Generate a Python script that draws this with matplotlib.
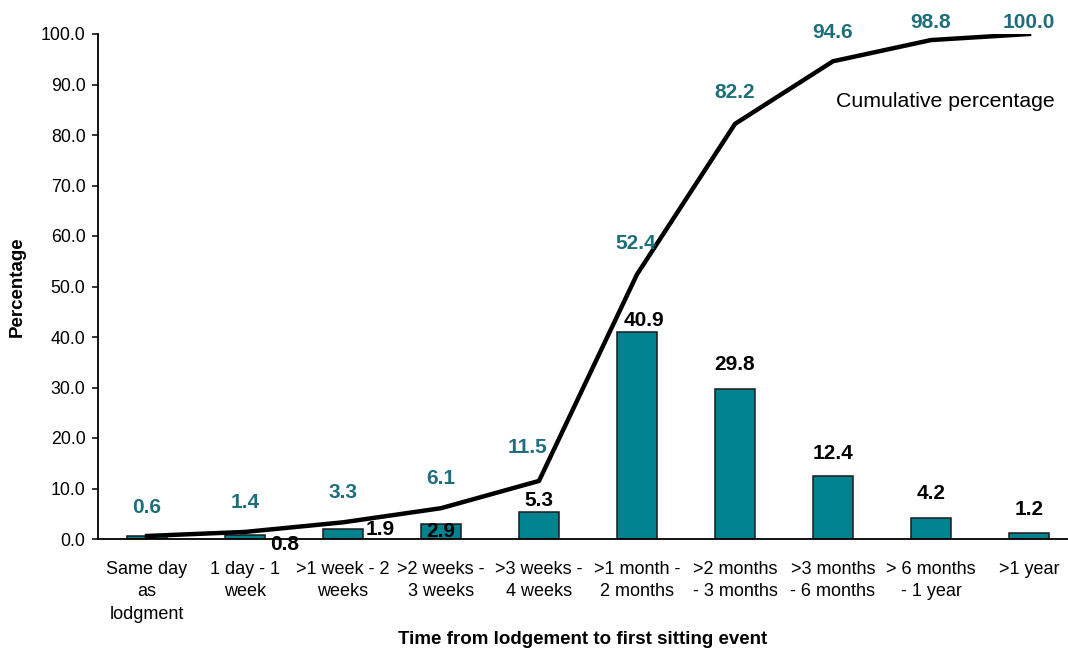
import matplotlib
matplotlib.use("Agg")
import matplotlib.pyplot as plt
import numpy as np

plt.rcParams['font.family'] = ['Liberation Sans', 'DejaVu Sans']

# data
categories = ["Same day\nas\nlodgment", "1 day - 1\nweek", ">1 week - 2\nweeks",
              ">2 weeks -\n3 weeks", ">3 weeks -\n4 weeks", ">1 month -\n2 months",
              ">2 months\n- 3 months", ">3 months\n- 6 months", "> 6 months\n- 1 year",
              ">1 year"]
share = [0.6, 0.8, 1.9, 2.9, 5.3, 40.9, 29.8, 12.4, 4.2, 1.2]
cumulative = [0.6, 1.4, 3.3, 6.1, 11.5, 52.4, 82.2, 94.6, 98.8, 100.0]

# label nudges in pixels (Excel moved a few of them by hand)
bar_dx = [0, 40, 37, 0, 0, 7, 0, 0, 0, 0]
bar_dy = [None, -10, 0, -7, 12, 12, 24, 23, 24, 23]
cum_dx = [0, 0, 0, 0, -11, -1, 0, 0, 0, 0]
cum_dy = [28, 29, 30, 30, 33, 31, 31, 29, 18, 12]

bar_col = '#00828F'
lab_col = '#1E6F7B'

fig = plt.figure(figsize=(10.68, 6.49), dpi=100)
ax = fig.add_axes([98 / 1068, 1 - 539 / 649, 1 - 98 / 1068, (539 - 34) / 649])

x = np.arange(len(categories))
ax.bar(x, share, width=0.41, color=bar_col, edgecolor='#1a1a1a', linewidth=1.1, zorder=2)
ax.plot(x, cumulative, color='black', linewidth=3.2, solid_joinstyle='round', zorder=3)

for i, v in enumerate(share):
    if bar_dy[i] is None:
        continue
    ax.annotate(f"{v:.1f}", (x[i], v), xytext=(bar_dx[i], bar_dy[i]),
                textcoords='offset pixels', ha='center', va='center',
                fontsize=15, fontweight='bold', color='black', zorder=4)

for i, v in enumerate(cumulative):
    ax.annotate(f"{v:.1f}", (x[i], v), xytext=(cum_dx[i], cum_dy[i]),
                textcoords='offset pixels', ha='center', va='center',
                fontsize=15, fontweight='bold', color=lab_col, zorder=4)

ax.text(8.15, 86.6, "Cumulative percentage", ha='center', va='center', fontsize=15.3)

ax.set_xlim(-0.5, 9.398)
ax.set_ylim(0, 100)
ax.set_yticks(np.arange(0, 101, 10))
ax.set_yticklabels([f"{t:.1f}" for t in np.arange(0, 101, 10)])
ax.set_xticks(x)
ax.set_xticklabels(categories, fontsize=13, linespacing=1.4)
ax.tick_params(axis='x', length=0, pad=16)
ax.tick_params(axis='y', direction='out', length=4, width=1.1, labelsize=12.8, pad=5)

for side in ['top', 'right']:
    ax.spines[side].set_visible(False)
for side in ['left', 'bottom']:
    ax.spines[side].set_linewidth(1.3)
    ax.spines[side].set_color('black')

ax.set_ylabel("Percentage", fontsize=13.5, fontweight='bold')
ax.yaxis.set_label_coords(-0.074, 0.5)
ax.set_xlabel("Time from lodgement to first sitting event", fontsize=13.5, fontweight='bold')
ax.xaxis.set_label_coords(0.5, -0.183)

fig.savefig("out.png", dpi=100)
